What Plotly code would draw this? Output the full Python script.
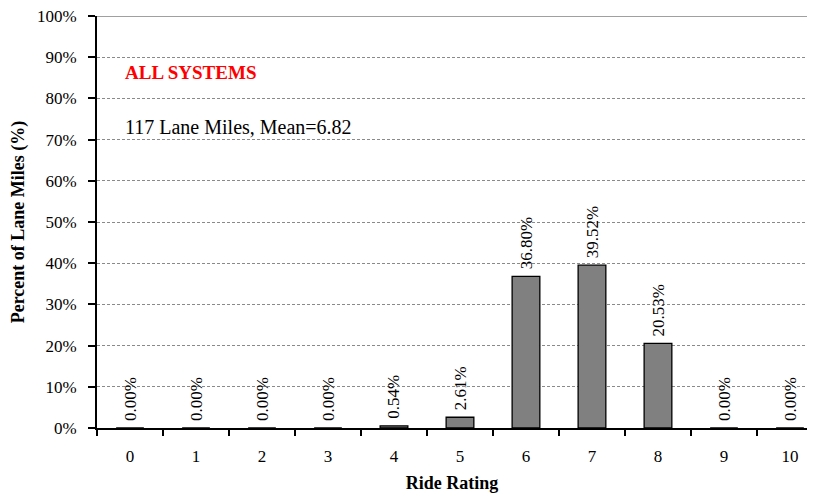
import plotly.graph_objects as go

categories = ["0", "1", "2", "3", "4", "5", "6", "7", "8", "9", "10"]
percent_values = [0.00, 0.00, 0.00, 0.00, 0.54, 2.61, 36.80, 39.52, 20.53, 0.00, 0.00]
value_labels = ["0.00%", "0.00%", "0.00%", "0.00%", "0.54%", "2.61%", "36.80%", "39.52%", "20.53%", "0.00%", "0.00%"]
y_ticks = [0, 10, 20, 30, 40, 50, 60, 70, 80, 90, 100]
y_tick_labels = [f"{v}%" for v in y_ticks]

FONT = "Liberation Serif"

fig = go.Figure()
fig.add_trace(go.Bar(
    x=categories, y=percent_values, width=0.42,
    marker=dict(color="#808080", line=dict(color="#000000", width=1.3)),
    hoverinfo="skip",
))

for c, v, t in zip(categories, percent_values, value_labels):
    fig.add_annotation(x=c, y=v, xref="x", yref="y", text=t, textangle=-90,
                       showarrow=False, yanchor="bottom", xanchor="center",
                       yshift=5, font=dict(family=FONT, size=17, color="#000"))

fig.add_annotation(x=0.036, y=0.862, xref="paper", yref="paper", text="<b>ALL SYSTEMS</b>",
                   showarrow=False, xanchor="left", yanchor="middle",
                   font=dict(family=FONT, size=19, color="#ff0000"))
fig.add_annotation(x=0.036, y=0.731, xref="paper", yref="paper", text="117 Lane Miles, Mean=6.82",
                   showarrow=False, xanchor="left", yanchor="middle",
                   font=dict(family=FONT, size=20, color="#000"))

fig.add_shape(type="line", xref="paper", yref="y", x0=0, x1=1, y0=100, y1=100,
              line=dict(color="#808080", width=1.5))

fig.update_layout(
    width=799, height=485,
    margin=dict(l=89, r=0, t=8, b=65, autoexpand=False),
    paper_bgcolor="white", plot_bgcolor="white",
    showlegend=False,
    font=dict(family=FONT, color="#000"),
    xaxis=dict(
        type="category", range=[-0.5, 10.258], automargin=False,
        tickson="boundaries", ticks="outside", ticklen=6, tickwidth=1.5, tickcolor="#000",
        showline=True, linecolor="#000", linewidth=2, showgrid=False,
        tickfont=dict(family=FONT, size=17), ticklabelstandoff=12,
        title=dict(text="<b>Ride Rating</b>", font=dict(family=FONT, size=18), standoff=15),
    ),
    yaxis=dict(
        range=[0, 100], tickvals=y_ticks, ticktext=y_tick_labels, automargin=False,
        ticks="outside", ticklen=7, tickwidth=1.5, tickcolor="#000",
        showline=True, linecolor="#000", linewidth=2,
        showgrid=True, gridcolor="#8a8a8a", gridwidth=1, griddash="3px,2px",
        zeroline=False, ticklabeloverflow="allow",
        tickfont=dict(family=FONT, size=17), ticklabelstandoff=8,
        title=dict(text="<b>Percent of Lane Miles (%)</b>", font=dict(family=FONT, size=18), standoff=10),
    ),
)

fig.write_html("out.html")
